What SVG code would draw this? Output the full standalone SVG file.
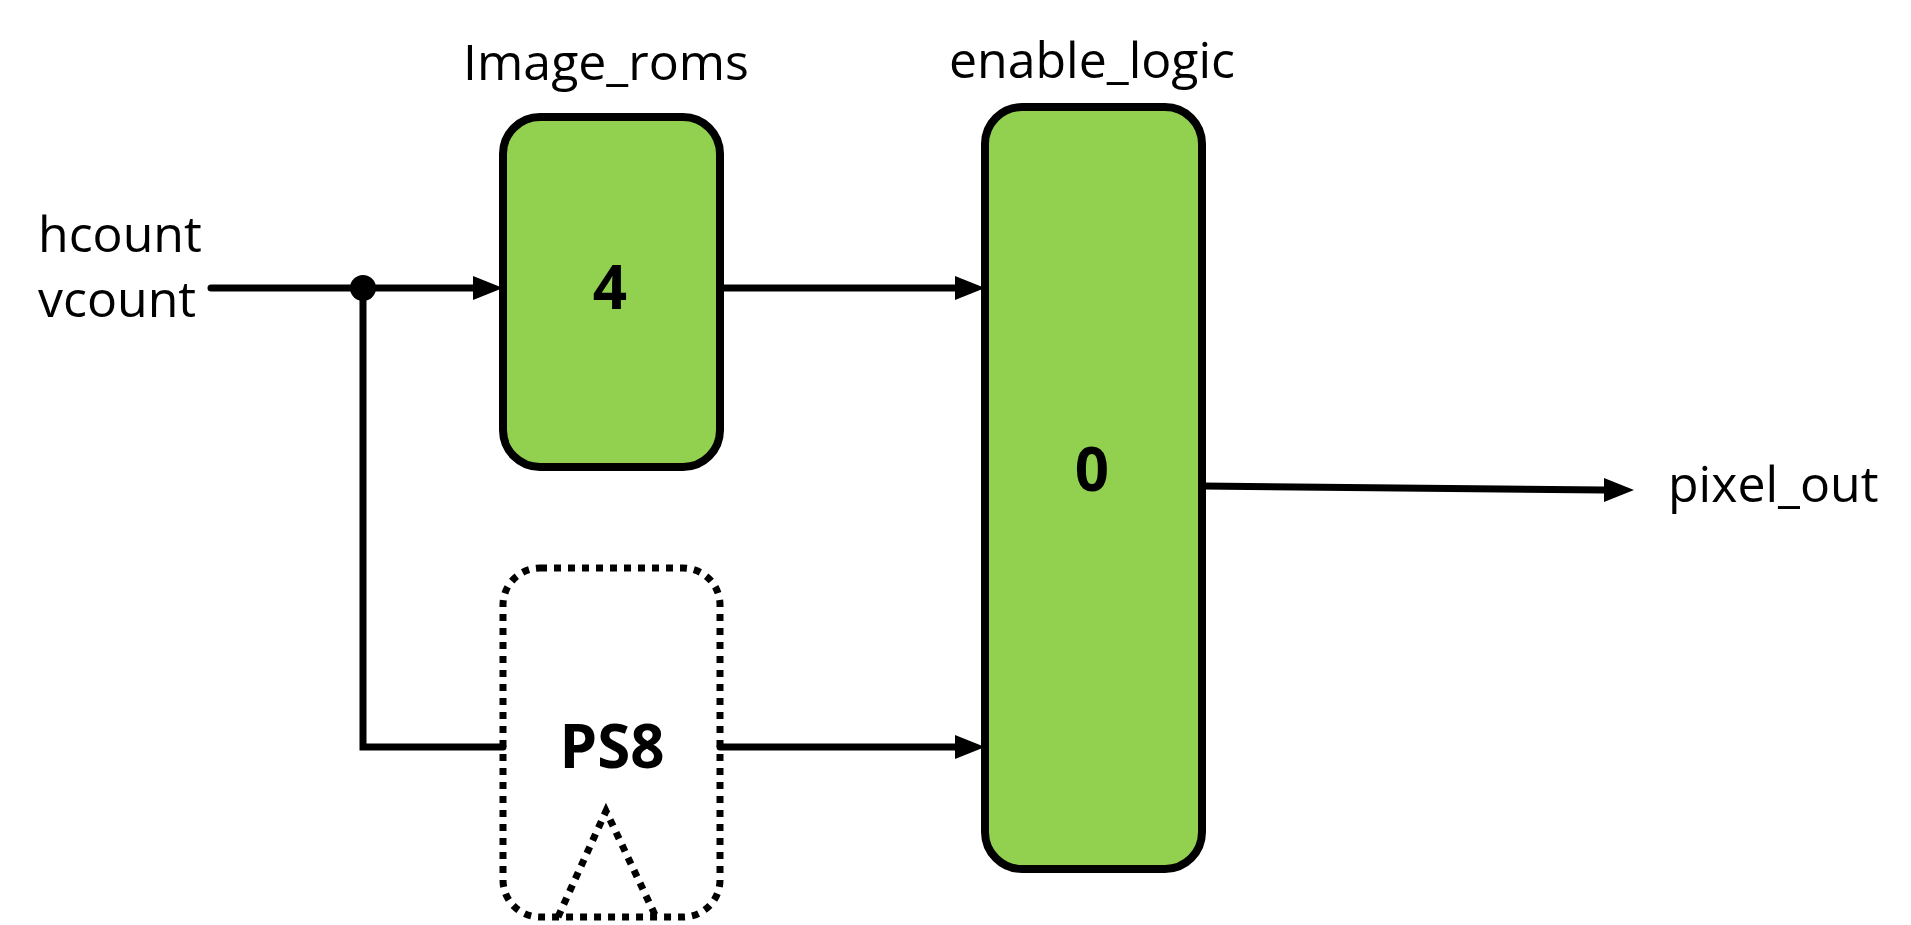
<svg xmlns="http://www.w3.org/2000/svg" width="1911" height="925" viewBox="0 0 1911 925">
<style>
.lbl{font-family:"Open Sans","Liberation Sans",sans-serif;font-size:50px;fill:#000}
.num{font-family:"Open Sans","Liberation Sans",sans-serif;font-size:60px;font-weight:bold;fill:#000;text-anchor:middle}
.box{fill:#92D050;stroke:#000;stroke-width:8}
.w{fill:none;stroke:#000;stroke-width:7;stroke-linecap:round}
.dot{fill:none;stroke:#000;stroke-width:7;stroke-dasharray:7 7}
</style>
<defs>
<marker id="ar" markerWidth="10" markerHeight="10" refX="9" refY="5" orient="auto" markerUnits="userSpaceOnUse" viewBox="0 0 10 10" style="overflow:visible">
<path d="M0,0 L10,5 L0,10 Z" fill="#000" transform="scale(2.8)" />
</marker>
</defs>
<rect width="1911" height="925" fill="#fff"/>
<g id="inputs">
<text class="lbl" x="38" y="252">hcount</text>
<text class="lbl" x="38" y="317">vcount</text>
</g>
<g id="image_roms">
<text class="lbl" x="606" y="80" text-anchor="middle">Image_roms</text>
<rect class="box" x="503" y="117" width="217" height="350" rx="37"/>
<text class="num" x="610" y="309">4</text>
</g>
<g id="enable_logic">
<text class="lbl" x="1092" y="78" text-anchor="middle">enable_logic</text>
<rect class="box" x="985" y="107" width="217" height="762" rx="37"/>
<text class="num" x="1092" y="491">0</text>
</g>
<g id="ps8">
<rect class="dot" x="503" y="568" width="217" height="349" rx="37"/>
<text class="num" x="612" y="768">PS8</text>
<path class="dot" d="M558,917 L606,811 L656,917"/>
</g>
<g id="output">
<text class="lbl" x="1668" y="502">pixel_out</text>
</g>
<g id="connectors">
<path class="w" d="M211,288 H473" />
<path d="M473,276 L503,288 L473,300 Z"/>
<circle cx="363" cy="288" r="13"/>
<path class="w" d="M363,288 V747 H503"/>
<path class="w" d="M720,288 H955"/>
<path d="M955,276 L985,288 L955,300 Z"/>
<path class="w" d="M720,747 H955"/>
<path d="M955,735 L985,747 L955,759 Z"/>
<path class="w" d="M1202,486 L1604,490"/>
<path d="M1604,478 L1634,490 L1604,502 Z"/>
</g>
</svg>
